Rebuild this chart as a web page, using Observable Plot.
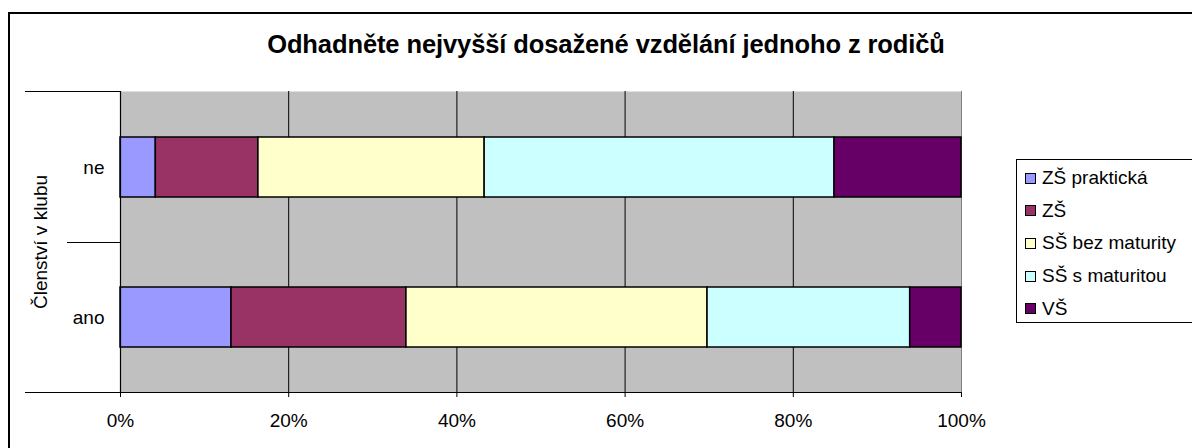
<!DOCTYPE html>
<html>
<head>
<meta charset="utf-8">
<script src="https://cdn.jsdelivr.net/npm/d3@7"></script>
<script src="https://cdn.jsdelivr.net/npm/@observablehq/plot@0.6"></script>
<style>
  html, body { margin: 0; padding: 0; background: #fff; }
  #wrap { position: relative; width: 1192px; height: 448px; overflow: hidden; font-family: "Liberation Sans", Arial, sans-serif; color: #000; }
  #border { position: absolute; left: 8px; top: 12px; width: 1300px; height: 600px; border: 2px solid #000; box-sizing: border-box; }
  #title { position: absolute; left: 0; width: 1212px; top: 32px; text-align: center; font-weight: bold; font-size: 25.5px; line-height: 25px; letter-spacing: -0.1px; }
  #chart { position: absolute; left: 0; top: 0; }
  #legend { position: absolute; left: 1016px; top: 159px; width: 200px; height: 164px; border: 1px solid #000; box-sizing: border-box; padding-top: 2px; background: #fff; }
  .item { height: 32.6px; display: flex; align-items: center; font-size: 19px; padding-left: 8px; }
  .sw { width: 9px; height: 9px; border: 1px solid #000; margin-right: 6px; flex: none; }
</style>
</head>
<body>
<div id="wrap">
  <div id="border"></div>
  <div id="title"></div>
  <div id="chart"></div>
  <div id="legend"></div>
</div>
<script>
const chartTitle = "Odhadněte nejvyšší dosažené vzdělání jednoho z rodičů";
const axisTitle = "Členství v klubu";
const groups = ["ne", "ano"];
const categories = ["ZŠ praktická", "ZŠ", "SŠ bez maturity", "SŠ s maturitou", "VŠ"];
const colors = ["#9999FF", "#993366", "#FFFFCC", "#CCFFFF", "#660066"];
const valuesNe = [4.2, 12.2, 26.9, 41.6, 15.1];
const valuesAno = [13.2, 20.8, 35.8, 24.1, 6.1];
const xTicks = [0, 20, 40, 60, 80, 100];

(function () {
  const data = categories.flatMap((c, i) => [
    {group: "ne", category: c, value: valuesNe[i]},
    {group: "ano", category: c, value: valuesAno[i]}
  ]);

  document.getElementById("title").textContent = chartTitle;

  const W = 1000, H = 448, ML = 120, MR = 39, MT = 91, MB = 56;

  const chart = Plot.plot({
    width: W,
    height: H,
    marginLeft: ML,
    marginRight: MR,
    marginTop: MT,
    marginBottom: MB,
    style: {fontFamily: "'Liberation Sans', Arial, sans-serif", fontSize: "19px", color: "#000", background: "transparent", overflow: "visible"},
    x: {domain: [0, 100], ticks: xTicks, tickFormat: d => d + "%", label: null},
    y: {domain: groups, paddingInner: 0.6, paddingOuter: 0.3, label: null},
    color: {domain: categories, range: colors},
    marks: [
      Plot.frame({fill: "#C0C0C0", stroke: null}),
      Plot.gridX(xTicks.filter(t => t > 0 && t < 100), {stroke: "#000", strokeOpacity: 1, strokeWidth: 1}),
      Plot.ruleX([100], {stroke: "#808080", strokeWidth: 1}),
      Plot.barX(data, Plot.stackX({x: "value", y: "group", fill: "category", order: categories, stroke: "#000", strokeWidth: 1.5})),
      Plot.axisX({ticks: xTicks, tickFormat: d => d + "%", tickSize: 5, tickPadding: 16, label: null, stroke: "#000"}),
      Plot.axisY({tickSize: 0, tickPadding: 16, label: null}),
      Plot.text([axisTitle], {frameAnchor: "left", textAnchor: "middle", rotate: -90, dx: -80, fontSize: 19})
    ]
  });

  // category-axis dividers derived from the chart's own y scale
  const ys = chart.scale("y");
  const p0 = ys.apply(groups[0]), p1 = ys.apply(groups[1]);
  const bw = ys.bandwidth || 0;
  const yTop = MT, yBottom = H - MB, xRight = W - MR;
  const yMid = Math.round((p0 + p1 + bw) / 2);
  const g = d3.select(chart).append("g").attr("stroke", "#000").attr("stroke-width", 1.2).attr("fill", "none");
  g.append("line").attr("x1", ML - 95).attr("x2", ML).attr("y1", yTop + 0.5).attr("y2", yTop + 0.5);
  g.append("line").attr("x1", ML - 53).attr("x2", ML).attr("y1", yMid + 0.5).attr("y2", yMid + 0.5);
  g.append("line").attr("x1", ML - 95).attr("x2", xRight).attr("y1", yBottom + 0.5).attr("y2", yBottom + 0.5);
  g.append("line").attr("x1", ML + 0.5).attr("x2", ML + 0.5).attr("y1", yTop).attr("y2", yBottom);

  document.getElementById("chart").appendChild(chart);

  const legend = document.getElementById("legend");
  categories.forEach((c, i) => {
    const row = document.createElement("div");
    row.className = "item";
    const sw = document.createElement("div");
    sw.className = "sw";
    sw.style.background = colors[i];
    const t = document.createElement("span");
    t.textContent = c;
    row.appendChild(sw);
    row.appendChild(t);
    legend.appendChild(row);
  });
})();
</script>
</body>
</html>
